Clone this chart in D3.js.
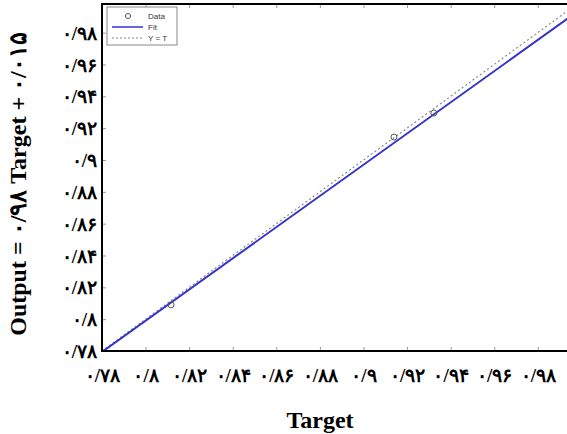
<!DOCTYPE html>
<html><head><meta charset="utf-8">
<script src="https://cdn.jsdelivr.net/npm/d3@7"></script>
<style>
body{margin:0;background:#fff;}
svg{display:block;}
</style></head>
<body>
<div id="chart"></div>
<script>
// ---- data ----
const targets = [0.8117, 0.914, 0.9323];
const outputs = [0.809, 0.9144, 0.9295];
const fitSlope = 0.98, fitIntercept = 0.015;
const tickValues = [0.78,0.80,0.82,0.84,0.86,0.88,0.90,0.92,0.94,0.96,0.98];
const axisDomain = [0.78, 0.998];
const legendLabels = ["Data","Fit","Y = T"];
const xTitle = "Target";
const yTitle = "Output = ۰/۹۸ Target + ۰/۰۱۵";

const W = 567, H = 434;
const L = 102, R = 577, T = 4, B = 351;
const fa = "۰۱۲۳۴۵۶۷۸۹";
const toFa = v => String(+v.toFixed(2)).replace(/[0-9]/g, d => fa[d]).replace(".", "/");

const svg = d3.select("#chart").append("svg").attr("width", W).attr("height", H);
svg.append("rect").attr("width", W).attr("height", H).attr("fill", "#fff");

const x = d3.scaleLinear().domain(axisDomain).range([L, R]);
const y = d3.scaleLinear().domain(axisDomain).range([B, T]);

svg.append("defs").append("clipPath").attr("id","clip")
  .append("rect").attr("x", L).attr("y", T).attr("width", R-L).attr("height", B-T);

const font = "'Liberation Serif','Times New Roman',serif";

// axes
const xa = svg.append("g").attr("transform", `translate(0,${B})`)
  .call(d3.axisBottom(x).tickValues(tickValues).tickSizeInner(-4).tickSizeOuter(0).tickPadding(18).tickFormat(toFa));
const xt = svg.append("g").attr("transform", `translate(0,${T})`)
  .call(d3.axisTop(x).tickValues(tickValues).tickSizeInner(-4).tickSizeOuter(0).tickFormat(""));
const ya = svg.append("g").attr("transform", `translate(${L},0)`)
  .call(d3.axisLeft(y).tickValues(tickValues).tickSizeInner(-4).tickSizeOuter(0).tickPadding(5).tickFormat(toFa));
[xa, xt, ya].forEach(g => {
  g.select(".domain").remove();
  g.selectAll(".tick line").attr("stroke", "#999");
  g.selectAll("text").attr("font-family", font).attr("font-weight", "bold").attr("font-size", 19).attr("fill", "#000");
});
ya.selectAll("text").attr("dy", "0.35em");

const plot = svg.append("g").attr("clip-path", "url(#clip)");
// Y = T line
plot.append("line")
  .attr("x1", x(axisDomain[0])).attr("y1", y(axisDomain[0]))
  .attr("x2", x(axisDomain[1])).attr("y2", y(axisDomain[1]))
  .attr("stroke", "#8a8a8a").attr("stroke-width", 1.2).attr("stroke-dasharray", "2,2.5");
// Fit line
plot.append("line")
  .attr("x1", x(axisDomain[0])).attr("y1", y(fitSlope*axisDomain[0]+fitIntercept))
  .attr("x2", x(axisDomain[1])).attr("y2", y(fitSlope*axisDomain[1]+fitIntercept))
  .attr("stroke", "#3333cc").attr("stroke-width", 2);
// data
plot.selectAll("circle.d").data(targets).join("circle").attr("class","d")
  .attr("cx", (d,i) => x(d)).attr("cy", (d,i) => y(outputs[i])).attr("r", 3)
  .attr("fill", "none").attr("stroke", "#555").attr("stroke-width", 1);

// frame
svg.append("rect").attr("x", L).attr("y", T).attr("width", R-L).attr("height", B-T)
  .attr("fill", "none").attr("stroke", "#000").attr("stroke-width", 2);

// legend
const lg = svg.append("g");
lg.append("rect").attr("x", 107).attr("y", 7).attr("width", 70).attr("height", 38)
  .attr("fill", "#fff").attr("stroke", "#888").attr("stroke-width", 1);
const ly = [16, 27, 38];
lg.append("circle").attr("cx", 128).attr("cy", ly[0]).attr("r", 2.5).attr("fill","none").attr("stroke","#555");
lg.append("line").attr("x1", 112).attr("x2", 143).attr("y1", ly[1]).attr("y2", ly[1]).attr("stroke","#5555dd").attr("stroke-width",1.8);
lg.append("line").attr("x1", 112).attr("x2", 143).attr("y1", ly[2]).attr("y2", ly[2]).attr("stroke","#888").attr("stroke-dasharray","2,2");
lg.selectAll("text").data(legendLabels).join("text")
  .attr("x", 148).attr("y", (d,i) => ly[i]).attr("dy","0.35em")
  .attr("font-family","'Liberation Sans',Arial,sans-serif").attr("font-size", 8).attr("fill","#333").text(d => d);

// titles
svg.append("text").attr("x", 320).attr("y", 428).attr("text-anchor","middle")
  .attr("font-family", font).attr("font-weight","bold").attr("font-size", 24).text(xTitle);
svg.append("text").attr("transform", "translate(26,184) rotate(-90)").attr("text-anchor","middle")
  .attr("direction","ltr")
  .attr("font-family", font).attr("font-weight","bold").attr("font-size", 24).text(yTitle);
</script>
</body></html>
